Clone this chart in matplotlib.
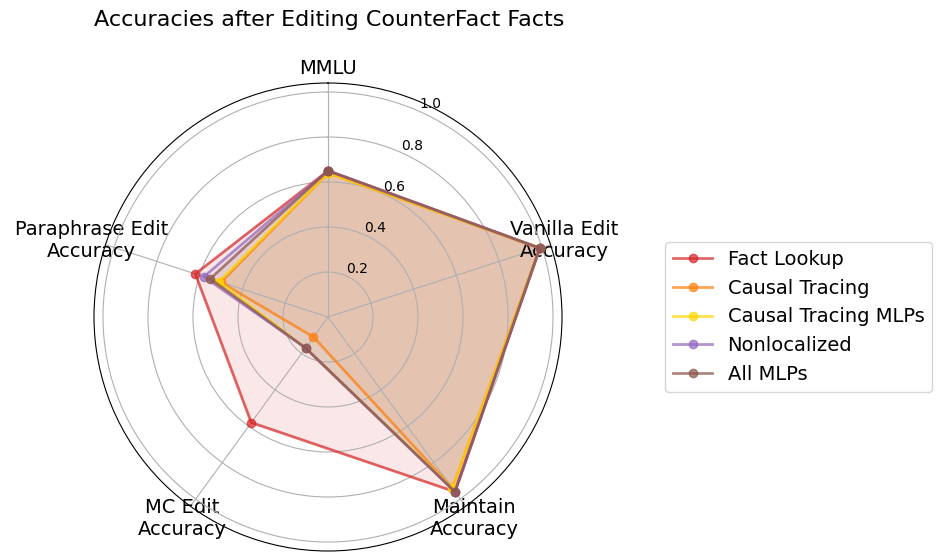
import numpy as np
import matplotlib
matplotlib.use('Agg')
import matplotlib.pyplot as plt

categories = ['MMLU', 'Vanilla Edit\nAccuracy', 'Maintain\nAccuracy', 'MC Edit\nAccuracy', 'Paraphrase Edit\nAccuracy']
methods = ['Fact Lookup', 'Causal Tracing', 'Causal Tracing MLPs', 'Nonlocalized', 'All MLPs']
colors = ['tab:red', 'tab:orange', 'gold', 'tab:purple', 'tab:brown']

fact_lookup = [0.65, 0.99, 0.96, 0.58, 0.62]
causal_tracing = [0.64, 0.99, 0.94, 0.11, 0.50]
causal_tracing_mlps = [0.64, 0.99, 0.94, 0.17, 0.51]
nonlocalized = [0.65, 0.99, 0.96, 0.17, 0.58]
all_mlps = [0.65, 0.99, 0.96, 0.17, 0.55]
series = [fact_lookup, causal_tracing, causal_tracing_mlps, nonlocalized, all_mlps]

angles = np.linspace(0, 2 * np.pi, len(categories), endpoint=False).tolist()
angles += angles[:1]

fig = plt.figure(figsize=(9.42, 5.6), dpi=100)
ax = fig.add_axes([94 / 942, 9 / 560, 468 / 942, 468 / 560], polar=True)
ax.set_theta_offset(np.pi / 2)
ax.set_theta_direction(-1)

for name, vals, c in zip(methods, series, colors):
    v = vals + vals[:1]
    ax.plot(angles, v, 'o-', color=c, linewidth=2, alpha=0.7, label=name)
    ax.fill(angles, v, color=c, alpha=0.1)

ax.set_xticks(angles[:-1])
ax.set_xticklabels(categories, fontsize=14)
ax.tick_params(axis='x', pad=0)
ax.set_ylim(0, 1.04)
ax.set_yticks([0.2, 0.4, 0.6, 0.8, 1.0])
ax.set_yticklabels(['0.2', '0.4', '0.6', '0.8', '1.0'], fontsize=10)
ax.set_rlabel_position(24)

fig.text(0.1, 0.965, 'Accuracies after Editing CounterFact Facts', fontsize=16, ha='left', va='center')
ax.legend(loc='center left', bbox_to_anchor=(1.2, 0.5), fontsize=14)

fig.savefig('out.png', dpi=100)
